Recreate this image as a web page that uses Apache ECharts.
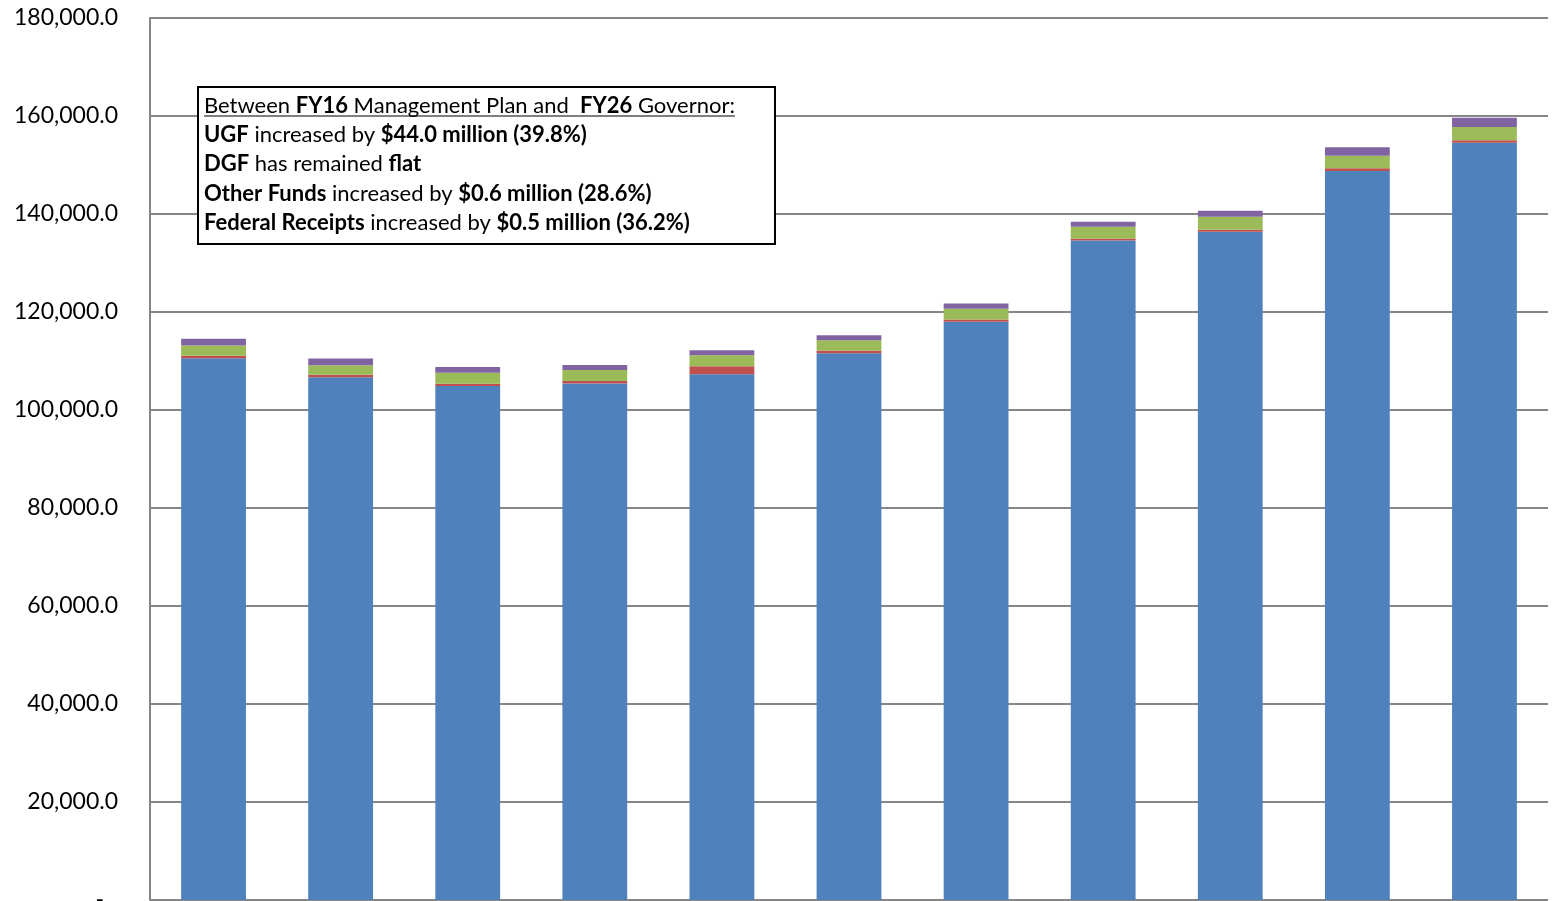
<!DOCTYPE html>
<html>
<head>
<meta charset="utf-8">
<title>Operating Budget by Fund Source</title>
<script src="https://cdn.jsdelivr.net/npm/echarts@6/dist/echarts.min.js"></script>
<style>
  html, body { margin: 0; padding: 0; background: #fff; }
  #chart { width: 1555px; height: 901px; }
</style>
</head>
<body>
<div id="chart"></div>
<script>
// Fiscal-year columns (thousands of dollars)
const categories = ['FY16 MgtPln', 'FY17 MgtPln', 'FY18 MgtPln', 'FY19 MgtPln', 'FY20 MgtPln',
  'FY21 MgtPln', 'FY22 MgtPln', 'FY23 MgtPln', 'FY24 MgtPln', 'FY25 MgtPln', 'FY26 Gov'];

const ugf = [110.55, 106.7, 104.9, 105.4, 107.3, 111.6, 118.0, 134.6, 136.4, 148.8, 154.55].map(v => v * 1000);
const dgf = [0.5, 0.47, 0.47, 0.53, 1.63, 0.53, 0.49, 0.41, 0.41, 0.55, 0.5].map(v => v * 1000);
const other = [2.1, 1.98, 2.24, 2.24, 2.24, 2.12, 2.16, 2.38, 2.65, 2.52, 2.7].map(v => v * 1000);
const federal = [1.38, 1.35, 1.16, 1.02, 1.02, 1.02, 1.1, 1.02, 1.22, 1.77, 1.88].map(v => v * 1000);

const seriesNames = ['UGF', 'DGF', 'Other Funds', 'Federal Receipts'];
const seriesColors = ['#4F81BD', '#C0504D', '#9BBB59', '#8064A2'];

const FONT = 'Lato, "Open Sans", sans-serif';
const NOTE_SIZE = 22;

const chart = echarts.init(document.getElementById('chart'), null, { renderer: 'canvas' });

function fmt(v) {
  if (v === 0) return '{dash|-}';
  return v.toLocaleString('en-US', { minimumFractionDigits: 1, maximumFractionDigits: 1 });
}

// measure text for the underline of the note's heading
const mctx = document.createElement('canvas').getContext('2d');
function w(text, bold) {
  mctx.font = (bold ? 'bold ' : '') + NOTE_SIZE + 'px ' + FONT;
  return mctx.measureText(text).width;
}

const noteX = 204, noteY = 91, lineH = 29.3;
const headingWidth = w('Between ') + w('FY16', true) + w(' Management Plan and  ') + w('FY26', true) + w(' Governor:');

const allData = [ugf, dgf, other, federal];

const option = {
  animation: false,
  backgroundColor: '#ffffff',
  grid: { left: 150, right: 7, top: 18, bottom: 1, containLabel: false, outerBoundsMode: 'none' },
  xAxis: {
    type: 'category',
    data: categories,
    axisLine: { show: false },
    axisTick: { show: false },
    axisLabel: { show: false }
  },
  yAxis: {
    type: 'value',
    min: 0,
    max: 180000,
    interval: 20000,
    axisLine: { show: true, lineStyle: { color: '#868686', width: 2 } },
    axisTick: { show: false },
    splitLine: { show: true, lineStyle: { color: '#868686', width: 2 } },
    axisLabel: {
      margin: 32,
      color: '#000',
      fontFamily: FONT,
      fontSize: 23,
      formatter: fmt,
      rich: { dash: { fontSize: 23, fontFamily: FONT, color: '#000', padding: [0, 14, 0, 0] } }
    }
  },
  series: seriesNames.map((name, i) => ({
    name: name,
    type: 'bar',
    stack: 'total',
    barWidth: '51%',
    data: allData[i],
    itemStyle: { color: seriesColors[i] }
  })),
  graphic: [
    {
      type: 'rect',
      shape: { x: 198, y: 87, width: 577, height: 157 },
      style: { fill: '#fff', stroke: '#000', lineWidth: 2 },
      z: 100
    },
    {
      type: 'text',
      x: noteX,
      y: noteY,
      z: 101,
      style: {
        text: [
          'Between {b|FY16} Management Plan and  {b|FY26} Governor:',
          '{b|UGF} increased by {b|$44.0 million (39.8%)}',
          '{b|DGF} has remained {b|flat}',
          '{b|Other Funds} increased by {b|$0.6 million (28.6%)}',
          '{b|Federal Receipts} increased by {b|$0.5 million (36.2%)}'
        ].join('\n'),
        font: NOTE_SIZE + 'px ' + FONT,
        fill: '#000',
        lineHeight: lineH,
        rich: {
          b: { fontWeight: 'bold', fontSize: NOTE_SIZE, fontFamily: FONT, fill: '#000', lineHeight: lineH }
        }
      }
    },
    {
      type: 'line',
      z: 101,
      shape: { x1: noteX, y1: 116, x2: noteX + headingWidth, y2: 116 },
      style: { stroke: '#000', lineWidth: 1.2 }
    }
  ]
};

chart.setOption(option);
</script>
</body>
</html>
